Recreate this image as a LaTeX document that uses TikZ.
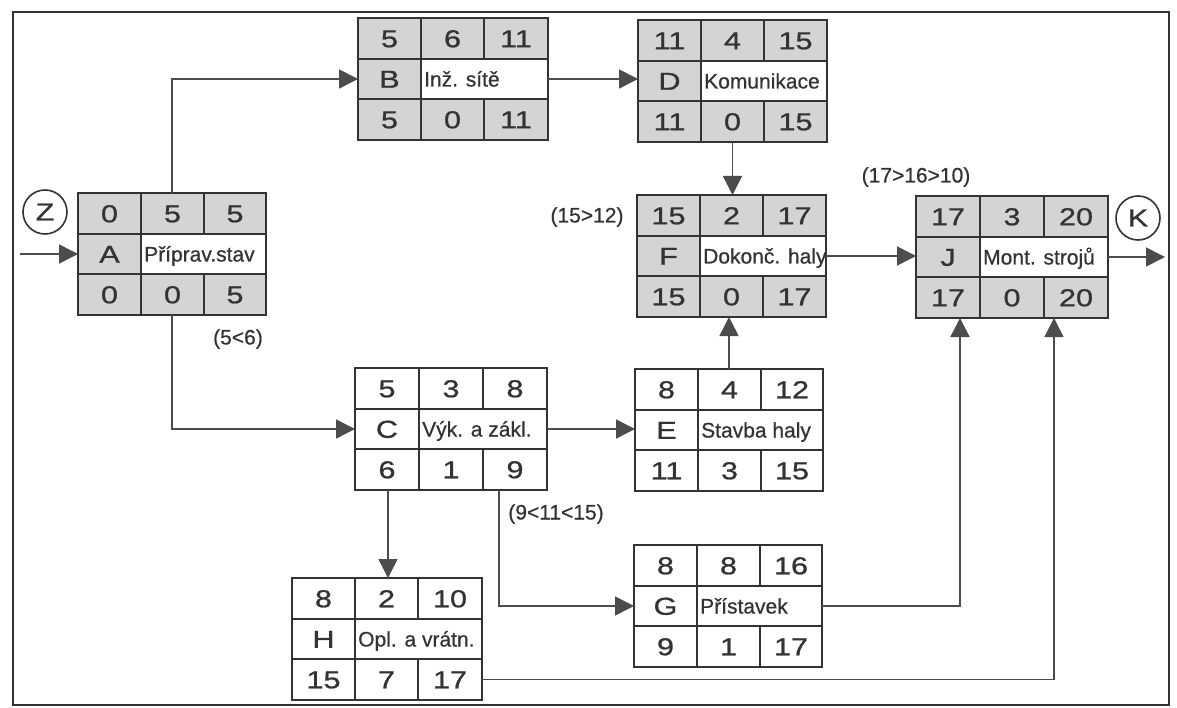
\documentclass[tikz,border=0pt]{standalone}
\usepackage{fontspec}
\setmainfont{Liberation Sans}[FakeBold=0.6]
\newfontfamily\digitfont{Liberation Sans}[FakeStretch=1.25, FakeBold=0.9]
\usetikzlibrary{arrows.meta}
\definecolor{cell}{gray}{0.83}
\definecolor{ink}{gray}{0.2}
\definecolor{wire}{gray}{0.3}
\tikzset{
  actframe/.style={draw=ink, line width=1.8pt, inner sep=0pt, outer sep=0pt},
  gridline/.style={draw=ink, line width=1.8pt},
  num/.style={font=\digitfont\fontsize{24.5}{24.5}\selectfont, text=ink, inner sep=0pt, text height=17.5pt, text depth=0pt},
  lbl/.style={font=\fontsize{21}{21}\selectfont, text=ink, inner sep=0pt, text height=15pt, text depth=0pt},
  conn/.style={draw=wire, line width=1.5pt, -{Triangle[length=19pt,width=19pt]}},
  circ/.style={circle, draw=ink, line width=1.6pt, minimum size=44pt, inner sep=0pt, text=ink,
    font=\digitfont\fontsize{24.5}{24.5}\selectfont},
  frame/.style={draw=ink, line width=2.2pt},
}
% #1 name, #2 left x, #3 top y, #4 width, #5 fill, #6 top a/b/c, #7 letter/label, #8 bottom a/b/c, #9 column width
\newcommand\actbox[9]{%
  \pgfmathsetmacro\bxA{#2}\pgfmathsetmacro\bxB{#2+#9}\pgfmathsetmacro\bxC{#2+2*#9}\pgfmathsetmacro\bxD{#2+#4}%
  \pgfmathsetmacro\byA{#3}\pgfmathsetmacro\byB{#3+41}\pgfmathsetmacro\byC{#3+81}\pgfmathsetmacro\byD{#3+122}%
  \node[actframe, fill=#5, minimum width=#4pt, minimum height=122pt, anchor=north west] (#1) at (\bxA,\byA) {};
  \fill[white] (\bxB,\byB) rectangle (\bxD,\byC);
  \draw[gridline] (\bxA,\byB) -- (\bxD,\byB) (\bxA,\byC) -- (\bxD,\byC)
    (\bxB,\byA) -- (\bxB,\byD) (\bxC,\byA) -- (\bxC,\byB) (\bxC,\byC) -- (\bxC,\byD);
  \draw[gridline] (#1.north west) rectangle (#1.south east);
  \foreach \ta/\tb/\tc in {#6}{%
    \node[num] at ({(\bxA+\bxB)/2},{(\byA+\byB)/2}) {\ta};
    \node[num] at ({(\bxB+\bxC)/2},{(\byA+\byB)/2}) {\tb};
    \node[num] at ({(\bxC+\bxD)/2},{(\byA+\byB)/2}) {\tc};}
  \foreach \ta/\tb in {#7}{%
    \node[num] at ({(\bxA+\bxB)/2},{(\byB+\byC)/2}) {\ta};
    \node[lbl, anchor=west] at ({\bxB+3},{(\byB+\byC)/2}) {\tb};}
  \foreach \ta/\tb/\tc in {#8}{%
    \node[num] at ({(\bxA+\bxB)/2},{(\byC+\byD)/2}) {\ta};
    \node[num] at ({(\bxB+\bxC)/2},{(\byC+\byD)/2}) {\tb};
    \node[num] at ({(\bxC+\bxD)/2},{(\byC+\byD)/2}) {\tc};}
}
\begin{document}
\begin{tikzpicture}[x=1pt, y=-1pt]
\useasboundingbox (0,0) rectangle (1177,708);
\fill[white] (0,0) rectangle (1177,708);
\draw[frame] (13,12) rectangle (1169,705);

\actbox{A}{78}{193}{188}{cell}{0/5/5}{A/Příprav.stav}{0/0/5}{63}
\actbox{B}{358}{18}{190}{cell}{5/6/11}{B/Inž. sítě}{5/0/11}{63}
\actbox{D}{638}{20}{189}{cell}{11/4/15}{D/Komunikace}{11/0/15}{63}
\actbox{F}{637}{195}{189}{cell}{15/2/17}{F/Dokonč. haly}{15/0/17}{63}
\actbox{J}{916}{196}{192}{cell}{17/3/20}{J/Mont. strojů}{17/0/20}{64}
\actbox{C}{355}{368}{192}{white}{5/3/8}{C/Výk. a zákl.}{6/1/9}{64}
\actbox{E}{635}{369}{188}{white}{8/4/12}{E/Stavba haly}{11/3/15}{63}
\actbox{G}{634}{545}{188}{white}{8/8/16}{G/Přístavek}{9/1/17}{63}
\actbox{H}{292}{578}{190}{white}{8/2/10}{H/Opl. a vrátn.}{15/7/17}{63}

\node[circ] (Z) at (45,212) {Z};
\node[circ] (K) at (1138,218) {K};
\coordinate (Zin) at (20,254);
\coordinate (Kout) at (1165,257);

\draw[conn] (Zin |- A.west) -- (A.west);
\draw[conn] (A.north) |- (B.west);
\draw[conn] (B.east) -- (B.east -| D.west);
\draw[conn] (D.south) -- (D.south |- F.north);
\draw[conn] (F.east) -- (F.east -| J.west);
\draw[conn] (J.east) -- (J.east -| Kout);
\draw[conn] (A.south) |- (C.west);
\draw[conn] (C.east) -- (C.east -| E.west);
\draw[conn] (E.north) -- (E.north |- F.south);
\draw[conn] ([xshift=33pt]C.south west) -- ([xshift=33pt]C.south west |- H.north);
\draw[conn] ([xshift=144pt]C.south west) |- (G.west);
\draw[conn] (G.east) -| ([xshift=44pt]J.south west);
\draw[conn] ([yshift=-40.5pt]H.east) -| ([xshift=138pt]J.south west);

\node[lbl] (l1) at (238,337) {(5<6)};
\node[lbl] (l2) at (587,215) {(15>12)};
\node[lbl] (l3) at (916,175) {(17>16>10)};
\node[lbl] (l4) at (556,512) {(9<11<15)};
\end{tikzpicture}
\end{document}
